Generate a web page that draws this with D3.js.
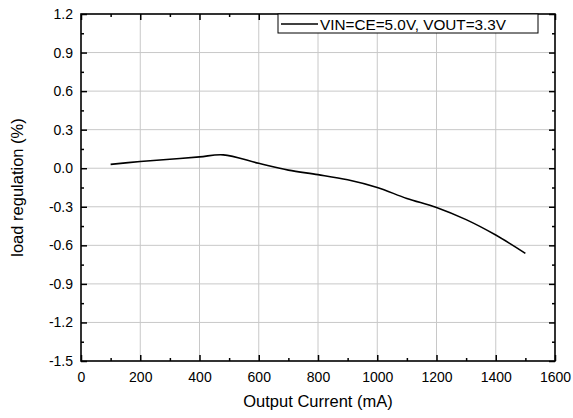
<!DOCTYPE html>
<html><head><meta charset="utf-8">
<script src="https://cdn.jsdelivr.net/npm/d3@7"></script>
<style>body{margin:0;background:#fff}svg{display:block}text{font-family:"Liberation Sans",Arial,sans-serif;fill:#000}</style>
</head><body>
<svg id="c" width="573" height="418"></svg>
<script>
const currents = [100,200,300,400,480,600,700,800,900,1000,1100,1200,1300,1400,1500];
const regulation = [0.03,0.052,0.07,0.088,0.104,0.038,-0.015,-0.05,-0.09,-0.15,-0.235,-0.305,-0.40,-0.52,-0.662];
const xTicks = [0,200,400,600,800,1000,1200,1400,1600];
const yTicks = [1.2,0.9,0.6,0.3,0.0,-0.3,-0.6,-0.9,-1.2,-1.5];
const legendLabel = "VIN=CE=5.0V, VOUT=3.3V";

const svg = d3.select("#c");
const L=81,R=555,T=14,B=361;
const x = d3.scaleLinear().domain([0,1600]).range([L,R]);
const y = d3.scaleLinear().domain([-1.5,1.2]).range([B,T]);

// grid
svg.append("g").selectAll("line").data(xTicks.slice(1,-1)).join("line")
 .attr("x1",d=>x(d)).attr("x2",d=>x(d)).attr("y1",T).attr("y2",B)
 .attr("stroke","#c8c8c8").attr("stroke-width",1);
svg.append("g").selectAll("line").data(yTicks.slice(1,-1)).join("line")
 .attr("y1",d=>y(d)).attr("y2",d=>y(d)).attr("x1",L).attr("x2",R)
 .attr("stroke","#c8c8c8").attr("stroke-width",1);

const xMinor = d3.range(100,1600,200);
const yMinor = d3.range(-1.35,1.2,0.3);
function axis(gen, tr){ return svg.append("g").attr("transform",tr).call(gen); }
const fmtY = d=>d3.format(".1f")(d).replace("−","-");
axis(d3.axisBottom(x).tickValues(xTicks).tickSizeInner(-6).tickSizeOuter(0).tickPadding(11).tickFormat(d3.format("d")),`translate(0,${B})`);
axis(d3.axisTop(x).tickValues(xTicks).tickSizeInner(-6).tickSizeOuter(0).tickFormat(""),`translate(0,${T})`);
axis(d3.axisLeft(y).tickValues(yTicks).tickSizeInner(-6).tickSizeOuter(0).tickPadding(8).tickFormat(fmtY),`translate(${L},0)`);
axis(d3.axisRight(y).tickValues(yTicks).tickSizeInner(-6).tickSizeOuter(0).tickFormat(""),`translate(${R},0)`);
axis(d3.axisBottom(x).tickValues(xMinor).tickSizeInner(-3).tickSizeOuter(0).tickFormat(""),`translate(0,${B})`);
axis(d3.axisTop(x).tickValues(xMinor).tickSizeInner(-3).tickSizeOuter(0).tickFormat(""),`translate(0,${T})`);
axis(d3.axisLeft(y).tickValues(yMinor).tickSizeInner(-3).tickSizeOuter(0).tickFormat(""),`translate(${L},0)`);
axis(d3.axisRight(y).tickValues(yMinor).tickSizeInner(-3).tickSizeOuter(0).tickFormat(""),`translate(${R},0)`);
svg.selectAll(".domain").remove();
svg.selectAll(".tick line").attr("stroke","#000").attr("stroke-width",1.5);
svg.selectAll(".tick text").attr("font-size",14).attr("font-family","'Liberation Sans',Arial,sans-serif");
svg.append("rect").attr("x",L).attr("y",T).attr("width",R-L).attr("height",B-T)
 .attr("fill","none").attr("stroke","#000").attr("stroke-width",1.6);

// line
const pts = currents.map((c,i)=>[c,regulation[i]]);
svg.append("path").datum(pts)
 .attr("d",d3.line().x(d=>x(d[0])).y(d=>y(d[1])).curve(d3.curveCatmullRom.alpha(0.5)))
 .attr("fill","none").attr("stroke","#000").attr("stroke-width",1.6);

// legend
const lg = svg.append("g");
lg.append("rect").attr("x",278).attr("y",14).attr("width",260).attr("height",19)
 .attr("fill","#fff").attr("stroke","#000").attr("stroke-width",1);
lg.append("line").attr("x1",281).attr("x2",318).attr("y1",24).attr("y2",24).attr("stroke","#000").attr("stroke-width",1.6);
lg.append("text").attr("x",320).attr("y",29.5).attr("font-size",15.3).text(legendLabel);

// titles
svg.append("text").attr("x",(L+R)/2).attr("y",407).attr("text-anchor","middle").attr("font-size",16.5).text("Output Current (mA)");
svg.append("text").attr("transform",`translate(23,${(T+B)/2}) rotate(-90)`).attr("text-anchor","middle").attr("font-size",16.5).text("load regulation (%)");
</script>
</body></html>
